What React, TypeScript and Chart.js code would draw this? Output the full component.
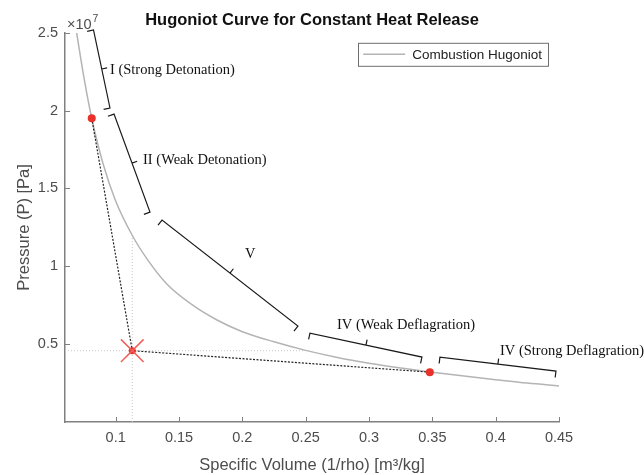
import React, { useEffect, useRef } from 'react';
import { Chart, registerables } from 'chart.js';

Chart.register(...registerables);

// Hugoniot curve readings: specific volume [m^3/kg], pressure [Pa]
const curveV = [0.0692, 0.075, 0.0811, 0.09, 0.1, 0.1137, 0.125, 0.14, 0.16, 0.18, 0.2, 0.225, 0.25, 0.275, 0.3, 0.325, 0.35, 0.375, 0.4, 0.425, 0.45];
const curveP = [2.5e7, 2.21e7, 1.951e7, 1.66e7, 1.42e7, 1.19e7, 1.045e7, 0.89e7, 0.755e7, 0.655e7, 0.58e7, 0.515e7, 0.46e7, 0.415e7, 0.378e7, 0.347e7, 0.32e7, 0.295e7, 0.272e7, 0.25e7, 0.232e7];

// CJ points (red dots) and initial state (red X)
const cjV = [0.0811, 0.348];
const cjP = [1.951e7, 0.32e7];
const initV = 0.1131;
const initP = 0.458e7;
const hGuideEndV = 0.25;
const vGuideEndP = 1.19e7;

// Axis ticks
const xTicks = [0.1, 0.15, 0.2, 0.25, 0.3, 0.35, 0.4, 0.45];
const yTicks = [0.5e7, 1e7, 1.5e7, 2e7, 2.5e7];

// Region braces (data coordinates)
const braceLabels = ['I (Strong Detonation)', 'II (Weak Detonation)', 'V', 'IV (Weak Deflagration)', 'IV (Strong Deflagration)'];
const braceV1 = [0.0825, 0.0987, 0.1366, 0.2534, 0.3560];
const braceP1 = [2.518e7, 1.978e7, 1.297e7, 0.571e7, 0.417e7];
const braceV2 = [0.0955, 0.1271, 0.2439, 0.3418, 0.4476];
const braceP2 = [2.017e7, 1.348e7, 0.616e7, 0.417e7, 0.327e7];
const labelV = [0.0955, 0.1216, 0.2021, 0.2747, 0.4034];
const labelP = [2.26e7, 1.682e7, 1.078e7, 0.622e7, 0.455e7];

const SANS = '"Liberation Sans", Arial, Helvetica, sans-serif';
const SERIF = '"Liberation Serif", "Times New Roman", serif';
const AXIS = '#808080';
const TEXT = '#4d4d4d';

const overlay = {
  id: 'overlay',
  afterDatasetsDraw(chart: any) {
    const { ctx, chartArea, scales } = chart;
    const x = scales.x;
    const y = scales.y;
    ctx.save();
    // inward tick marks
    ctx.strokeStyle = AXIS;
    ctx.lineWidth = 1;
    ctx.beginPath();
    x.ticks.forEach((t: any) => {
      const px = Math.round(x.getPixelForValue(t.value)) + 0.5;
      ctx.moveTo(px, chartArea.bottom);
      ctx.lineTo(px, chartArea.bottom - 5);
    });
    y.ticks.forEach((t: any) => {
      const py = Math.round(y.getPixelForValue(t.value)) + 0.5;
      ctx.moveTo(chartArea.left, py);
      ctx.lineTo(chartArea.left + 5, py);
    });
    ctx.stroke();

    // exponent label
    ctx.fillStyle = TEXT;
    ctx.textAlign = 'left';
    ctx.textBaseline = 'alphabetic';
    ctx.font = `14.5px ${SANS}`;
    ctx.fillText('\u00d710', chartArea.left + 2, chartArea.top - 4);
    const w = ctx.measureText('\u00d710').width;
    ctx.font = `10.5px ${SANS}`;
    ctx.fillText('7', chartArea.left + 3 + w, chartArea.top - 11);

    // braces
    ctx.strokeStyle = '#1a1a1a';
    ctx.lineWidth = 1.2;
    for (let i = 0; i < braceLabels.length; i++) {
      const x1 = x.getPixelForValue(braceV1[i]);
      const y1 = y.getPixelForValue(braceP1[i]);
      const x2 = x.getPixelForValue(braceV2[i]);
      const y2 = y.getPixelForValue(braceP2[i]);
      const dx = x2 - x1, dy = y2 - y1;
      const len = Math.hypot(dx, dy);
      const ux = dx / len, uy = dy / len;
      const nx = -uy, ny = ux;
      const hook = 6.5, tick = 5.5;
      ctx.beginPath();
      ctx.moveTo(x1 + nx * hook, y1 + ny * hook);
      ctx.lineTo(x1, y1);
      ctx.lineTo(x2, y2);
      ctx.lineTo(x2 + nx * hook, y2 + ny * hook);
      const mx = (x1 + x2) / 2, my = (y1 + y2) / 2;
      ctx.moveTo(mx, my);
      ctx.lineTo(mx - nx * tick, my - ny * tick);
      ctx.stroke();
    }
    ctx.fillStyle = '#111';
    ctx.font = `14.5px ${SERIF}`;
    ctx.textAlign = 'left';
    ctx.textBaseline = 'middle';
    for (let i = 0; i < braceLabels.length; i++) {
      ctx.fillText(braceLabels[i], x.getPixelForValue(labelV[i]), y.getPixelForValue(labelP[i]));
    }

    // legend box
    const ds = chart.data.datasets.find((d: any) => d.label === 'Combustion Hugoniot');
    ctx.font = `13.5px ${SANS}`;
    const tw = ctx.measureText(ds.label).width;
    const bw = 5 + 42 + 7 + tw + 6;
    const bh = 23;
    const bx = chartArea.right - 11 - bw;
    const by = chartArea.top + 10;
    ctx.fillStyle = '#fff';
    ctx.fillRect(bx, by, bw, bh);
    ctx.strokeStyle = '#6e6e6e';
    ctx.lineWidth = 1;
    ctx.strokeRect(Math.round(bx) + 0.5, by + 0.5, Math.round(bw), bh);
    ctx.strokeStyle = ds.borderColor;
    ctx.lineWidth = ds.borderWidth;
    ctx.beginPath();
    ctx.moveTo(bx + 5, by + bh / 2);
    ctx.lineTo(bx + 47, by + bh / 2);
    ctx.stroke();
    ctx.fillStyle = '#222';
    ctx.textAlign = 'left';
    ctx.textBaseline = 'middle';
    ctx.fillText(ds.label, bx + 54, by + bh / 2 + 0.5);
    ctx.restore();
  },
};

export default function App() {
  const ref = useRef<HTMLCanvasElement>(null);
  useEffect(() => {
    if (!ref.current) return;
    const chart = new Chart(ref.current, {
      type: 'scatter',
      data: {
        datasets: [
          {
            label: 'init',
            data: [{ x: initV, y: initP }],
            pointStyle: 'crossRot',
            pointRadius: 16,
            borderColor: '#f0605a',
            backgroundColor: '#f0605a',
            borderWidth: 1.5,
          } as any,
          {
            label: 'initDot',
            data: [{ x: initV, y: initP }],
            pointRadius: 3.5,
            borderWidth: 0,
            backgroundColor: '#e8312a',
          },
          {
            label: 'cj',
            data: cjV.map((v, i) => ({ x: v, y: cjP[i] })),
            pointRadius: 4,
            borderWidth: 0,
            backgroundColor: '#e8312a',
          },
          {
            label: 'rayleigh',
            data: [{ x: cjV[0], y: cjP[0] }, { x: initV, y: initP }, { x: cjV[1], y: cjP[1] }],
            showLine: true,
            pointRadius: 0,
            borderColor: '#222222',
            borderWidth: 1.2,
            borderDash: [2, 1.5],
          } as any,
          {
            label: 'Combustion Hugoniot',
            data: curveV.map((v, i) => ({ x: v, y: curveP[i] })),
            showLine: true,
            pointRadius: 0,
            borderColor: '#b4b4b4',
            borderWidth: 1.5,
            cubicInterpolationMode: 'monotone',
          } as any,
          {
            label: 'vguide',
            data: [{ x: initV, y: 0 }, { x: initV, y: vGuideEndP }],
            showLine: true,
            pointRadius: 0,
            borderColor: '#c8c8c8',
            borderWidth: 1,
            borderDash: [1, 2],
          } as any,
          {
            label: 'hguide',
            data: [{ x: 0.06, y: initP }, { x: hGuideEndV, y: initP }],
            showLine: true,
            pointRadius: 0,
            borderColor: '#c8c8c8',
            borderWidth: 1,
            borderDash: [1, 2],
          } as any,
        ],
      },
      options: {
        responsive: false,
        animation: false,
        layout: { padding: { left: 0, right: 85, top: 0, bottom: 0 } },
        plugins: {
          legend: { display: false },
          tooltip: { enabled: false },
          title: {
            display: true,
            fullSize: false,
            text: 'Hugoniot Curve for Constant Heat Release',
            color: '#111',
            font: { family: SANS, size: 16.5, weight: 'bold' },
            padding: { top: 11, bottom: 2 },
          },
        },
        scales: {
          x: {
            type: 'linear',
            min: 0.06,
            max: 0.45,
            afterBuildTicks: (s: any) => {
              s.ticks = xTicks.map((v) => ({ value: v }));
            },
            afterFit: (s: any) => {
              s.height = 53;
            },
            ticks: {
              autoSkip: false,
              maxRotation: 0,
              padding: 7,
              color: TEXT,
              font: { family: SANS, size: 14.5 },
              callback: (v: any) => String(v),
            },
            grid: { display: true, drawOnChartArea: false, drawTicks: false },
            border: { display: true, color: AXIS, width: 1.5 },
            title: {
              display: true,
              text: 'Specific Volume (1/rho) [m\u00b3/kg]',
              color: TEXT,
              font: { family: SANS, size: 16.5 },
              padding: { top: 1, bottom: 0 },
            },
          },
          y: {
            type: 'linear',
            min: 0,
            max: 2.5e7,
            afterBuildTicks: (s: any) => {
              s.ticks = yTicks.map((v) => ({ value: v }));
            },
            afterFit: (s: any) => {
              s.width = 65;
            },
            ticks: {
              autoSkip: false,
              padding: 7,
              color: TEXT,
              font: { family: SANS, size: 14.5 },
              callback: (v: any) => String(Math.round((v / 1e7) * 10) / 10),
            },
            grid: { display: true, drawOnChartArea: false, drawTicks: false },
            border: { display: true, color: AXIS, width: 1.5 },
            title: {
              display: true,
              text: 'Pressure (P) [Pa]',
              color: TEXT,
              font: { family: SANS, size: 16.5 },
              padding: { top: 15, bottom: 0 },
            },
          },
        },
      },
      plugins: [overlay],
    } as any);
    return () => chart.destroy();
  }, []);
  return (
    <div style={{ position: 'absolute', left: 0, top: 0, width: 644, height: 475, background: '#fff' }}>
      <canvas ref={ref} width={644} height={475} style={{ display: 'block' }} />
    </div>
  );
}
